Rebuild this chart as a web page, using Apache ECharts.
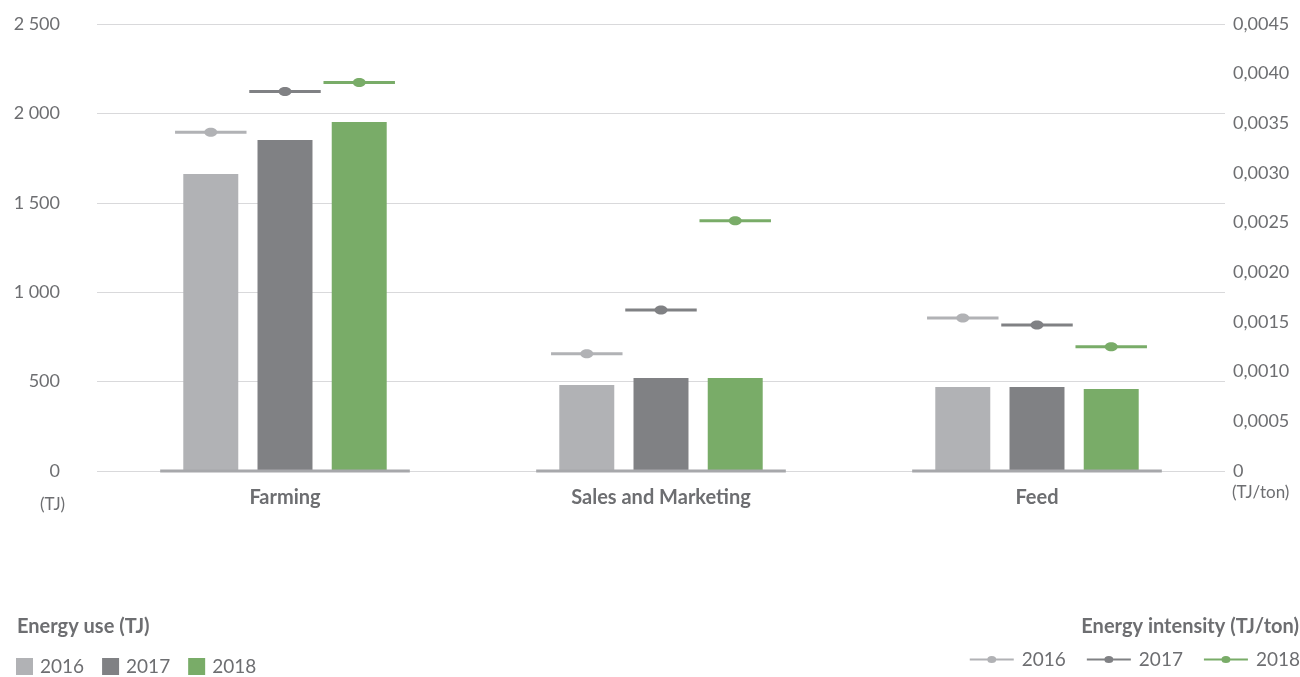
<!DOCTYPE html>
<html>
<head>
<meta charset="utf-8">
<script src="https://cdn.jsdelivr.net/npm/echarts@6/dist/echarts.min.js"></script>
<style>
  html, body { margin: 0; padding: 0; background: #ffffff; }
  #chart { width: 1300px; height: 677px; }
</style>
</head>
<body>
<div id="chart"></div>
<script>
// Energy use by business area (TJ) and energy intensity (TJ/ton), 2016-2018
const categories = ['Farming', 'Sales and Marketing', 'Feed'];
const years = ['2016', '2017', '2018'];

const energyUse2016 = [1661, 481, 470];
const energyUse2017 = [1851, 520, 470];
const energyUse2018 = [1952, 520, 459];

const intensity2016 = [0.00341, 0.00118, 0.00154];
const intensity2017 = [0.00382, 0.00162, 0.00147];
const intensity2018 = [0.00391, 0.00252, 0.00125];

const useTicks = { min: 0, max: 2500, interval: 500 };
const intensityTicks = { min: 0, max: 0.0045, interval: 0.0005 };

const colors = ['#b1b2b5', '#808184', '#79ac68'];
const textColor = '#6d6e71';
const fontFamily = 'Lato, "Open Sans", sans-serif';

const BAR_CATEGORY_GAP = 0.459;
const BAR_GAP = 0.35;

const useSeriesData = [energyUse2016, energyUse2017, energyUse2018];
const intensitySeriesData = [intensity2016, intensity2017, intensity2018];

// bar width and centre-to-centre step within a category band
function barLayout(band) {
  const bw = band * (1 - BAR_CATEGORY_GAP) / (years.length + (years.length - 1) * BAR_GAP);
  return { bw: bw, step: bw * (1 + BAR_GAP) };
}

const barSeries = years.map((y, i) => ({
  name: 'Energy use ' + y,
  type: 'bar',
  yAxisIndex: 0,
  data: useSeriesData[i],
  barGap: (BAR_GAP * 100) + '%',
  barCategoryGap: (BAR_CATEGORY_GAP * 100) + '%',
  itemStyle: { color: colors[i] },
  z: 2
}));

const markerSeries = years.map((y, i) => ({
  name: 'Energy intensity ' + y,
  type: 'custom',
  yAxisIndex: 1,
  data: intensitySeriesData[i].map((v, c) => [c, v]),
  itemStyle: { color: colors[i] },
  z: 5,
  renderItem: function (params, api) {
    const pt = api.coord([api.value(0), api.value(1)]);
    const band = api.size([1, 0])[0];
    const lay = barLayout(band);
    const cx = pt[0] + (i - (years.length - 1) / 2) * lay.step;
    const half = lay.bw * 0.65;
    return {
      type: 'group',
      children: [
        {
          type: 'line',
          shape: { x1: cx - half, y1: pt[1], x2: cx + half, y2: pt[1] },
          style: { stroke: colors[i], lineWidth: 3 }
        },
        {
          type: 'ellipse',
          shape: { cx: cx, cy: pt[1], rx: 6.5, ry: 4.5 },
          style: { fill: colors[i] }
        }
      ]
    };
  }
}));

// short baseline segment under each category group
const baselineSeries = {
  name: 'baseline',
  type: 'custom',
  yAxisIndex: 0,
  data: categories.map((c, idx) => [idx, 0]),
  z: 4,
  silent: true,
  renderItem: function (params, api) {
    const pt = api.coord([api.value(0), api.value(1)]);
    const band = api.size([1, 0])[0];
    const half = band * 0.332;
    return {
      type: 'line',
      shape: { x1: pt[0] - half, y1: pt[1], x2: pt[0] + half, y2: pt[1] },
      style: { stroke: '#a7a8ab', lineWidth: 3 }
    };
  }
};

const lineIcon = 'path://M0,3h44v2h-44z M17.5,4a4.5,3.5 0 1,1 9,0a4.5,3.5 0 1,1 -9,0z';

const chart = echarts.init(document.getElementById('chart'), null, { renderer: 'canvas' });
chart.setOption({
  animation: false,
  backgroundColor: '#ffffff',
  grid: { left: 97, right: 75, top: 24, bottom: 206, containLabel: false },
  xAxis: {
    type: 'category',
    data: categories,
    axisLine: { show: false },
    axisTick: { show: false },
    axisLabel: {
      color: textColor,
      fontFamily: fontFamily,
      fontWeight: 'bold',
      fontSize: 20,
      margin: 17
    }
  },
  yAxis: [
    {
      type: 'value',
      min: useTicks.min,
      max: useTicks.max,
      interval: useTicks.interval,
      axisLine: { show: false },
      axisTick: { show: false },
      splitLine: { lineStyle: { color: '#d9d9db', width: 1 } },
      axisLabel: {
        color: textColor,
        fontFamily: fontFamily,
        fontSize: 18,
        margin: 37,
        formatter: v => String(v).replace(/\B(?=(\d{3})+(?!\d))/g, ' ')
      }
    },
    {
      type: 'value',
      min: intensityTicks.min,
      max: intensityTicks.max,
      interval: intensityTicks.interval,
      axisLine: { show: false },
      axisTick: { show: false },
      splitLine: { show: false },
      axisLabel: {
        color: textColor,
        fontFamily: fontFamily,
        fontSize: 18,
        margin: 8,
        formatter: v => (Math.abs(v) < 1e-12 ? '0' : v.toFixed(4).replace('.', ','))
      }
    }
  ],
  legend: [
    {
      left: 16,
      top: 657,
      padding: 0,
      itemWidth: 17,
      itemHeight: 17,
      itemGap: 18,
      icon: 'rect',
      data: years.map(y => 'Energy use ' + y),
      formatter: n => n.slice(-4),
      textStyle: { color: textColor, fontFamily: fontFamily, fontSize: 19, padding: [0, 0, 0, 2] },
      selectedMode: false
    },
    {
      right: 0,
      top: 650,
      padding: 0,
      itemWidth: 44,
      itemHeight: 7,
      itemGap: 21,
      data: years.map(y => ({ name: 'Energy intensity ' + y, icon: lineIcon })),
      formatter: n => n.slice(-4),
      textStyle: { color: textColor, fontFamily: fontFamily, fontSize: 19, padding: [0, 0, 0, 3] },
      selectedMode: false
    }
  ],
  graphic: [
    {
      type: 'text', left: 17, top: 617,
      style: { text: 'Energy use (TJ)', fill: textColor, font: 'bold 20px ' + fontFamily }
    },
    {
      type: 'text', right: 1, top: 617,
      style: { text: 'Energy intensity (TJ/ton)', fill: textColor, font: 'bold 20px ' + fontFamily }
    },
    {
      type: 'text', left: 40, top: 496,
      style: { text: '(TJ)', fill: textColor, font: '17px ' + fontFamily }
    },
    {
      type: 'text', left: 1232, top: 484,
      style: { text: '(TJ/ton)', fill: textColor, font: '17px ' + fontFamily }
    }
  ],
  series: [...barSeries, ...markerSeries, baselineSeries]
});
</script>
</body>
</html>
